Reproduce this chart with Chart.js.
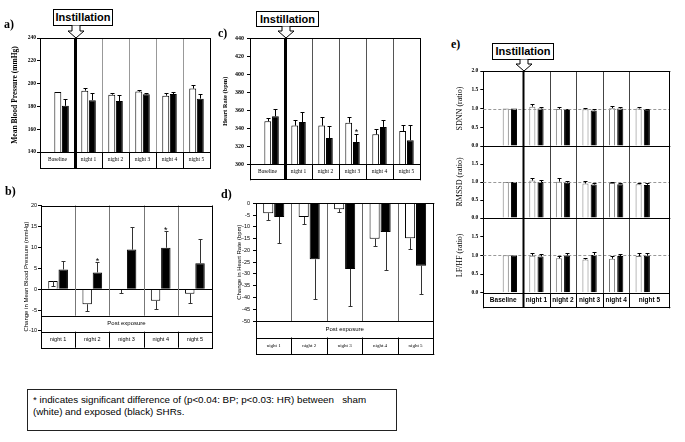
<!DOCTYPE html>
<html>
<head>
<meta charset="utf-8">
<script src="https://cdn.jsdelivr.net/npm/chart.js@4.4.0/dist/chart.umd.min.js"></script>
<style>
  body { margin: 0; background: #fff; width: 685px; height: 442px; position: relative; overflow: hidden; }
  canvas { position: absolute; z-index: 0; }
  .lab { position: absolute; z-index: 2; font: bold 12px 'Liberation Serif', serif; }
  .inst { position: absolute; z-index: 3; border: 1px solid #000; background: #fff; box-sizing: border-box;
          font: bold 11px 'Liberation Sans', Arial, sans-serif; text-align: center; }
  .note { position: absolute; z-index: 2; left: 27px; top: 389px; width: 370px; height: 42px; box-sizing: border-box;
          border: 1px solid #222; padding: 4px 0 0 5px; font: 9.8px 'Liberation Sans', Arial, sans-serif; line-height: 12px; white-space: pre; }
</style>
</head>
<body>
<div class="lab" style="left:4px;top:17px">a)</div>
<div class="lab" style="left:5px;top:184px">b)</div>
<div class="lab" style="left:218px;top:26px">c)</div>
<div class="lab" style="left:221px;top:187px">d)</div>
<div class="lab" style="left:451px;top:37px">e)</div>
<div class="inst" style="left:53px;top:9px;width:60px;height:17px;line-height:15px">Instillation</div>
<div class="inst" style="left:256px;top:11px;width:63px;height:16px;line-height:14px">Instillation</div>
<div class="inst" style="left:492px;top:43px;width:62px;height:17px;line-height:15px">Instillation</div>
<div class="note">* indicates significant difference of (p&lt;0.04: BP; p&lt;0.03: HR) between   sham
(white) and exposed (black) SHRs.</div>
<script>
const cats6 = ['Baseline', 'night 1', 'night 2', 'night 3', 'night 4', 'night 5'];
const cats5 = ['night 1', 'night 2', 'night 3', 'night 4', 'night 5'];

// a) mean blood pressure (mmHg)
const bpTicks = [140, 160, 180, 200, 220, 240];
const bpSham = [192.6, 193.8, 190.3, 193.0, 189.4, 195.6];
const bpShamErr = [0.4, 2.7, 1.4, 1.7, 2.6, 3.2];
const bpExp = [180.5, 185.5, 184.7, 190.6, 190.8, 186.8];
const bpExpErr = [5.9, 6.5, 5.1, 1.4, 2.2, 4.4];

// b) change in mean blood pressure
const dbpTicks = [-10, -5, 0, 5, 10, 15, 20];
const dbpSham = [1.95, -3.6, -0.2, -2.8, -1.1];
const dbpShamErr = [1.25, 1.6, 0.8, 1.9, 2.3];
const dbpExp = [4.7, 4.0, 9.45, 9.9, 6.2];
const dbpExpErr = [2.1, 2.6, 5.3, 4.0, 5.8];
const dbpSig = [false, true, false, true, false];

// c) heart rate (bpm)
const hrTicks = [300, 320, 340, 360, 380, 400, 420, 440];
const hrSham = [347.8, 343.0, 343.0, 346.3, 333.3, 337.0];
const hrShamErr = [4.1, 6.6, 9.6, 5.9, 5.6, 7.0];
const hrExp = [353.3, 347.0, 329.2, 324.8, 341.5, 326.7];
const hrExpErr = [8.1, 11.0, 13.4, 8.9, 7.4, 17.3];
const hrSig = [false, false, false, true, false, false];

// d) change in heart rate
const dhrTicks = [-50, -45, -40, -35, -30, -25, -20, -15, -10, -5, 0];
const dhrSham = [-4.2, -5.8, -2.5, -15.1, -14.9];
const dhrShamErr = [2.9, 3.1, 1.3, 3.1, 4.6];
const dhrExp = [-5.8, -23.8, -27.9, -12.2, -26.5];
const dhrExpErr = [11.0, 16.7, 15.8, 16.2, 12.0];

// e) HRV ratios
const ratioTicks = [0, 0.5, 1.0, 1.5, 2.0];
const sdnnSham = [1.00, 1.05, 0.99, 0.98, 1.01, 1.00];
const sdnnShamErr = [0, 0.07, 0.05, 0.03, 0.07, 0.05];
const sdnnExp = [1.00, 1.00, 0.99, 0.95, 1.00, 0.97];
const sdnnExpErr = [0, 0.03, 0, 0.04, 0.05, 0.03];
const rmssdSham = [1.00, 1.04, 1.01, 0.96, 0.97, 0.94];
const rmssdShamErr = [0, 0.08, 0.11, 0.07, 0.04, 0.03];
const rmssdExp = [1.00, 1.00, 0.98, 0.93, 0.94, 0.92];
const rmssdExpErr = [0, 0.06, 0.04, 0.05, 0.04, 0.06];
const lfhfSham = [1.00, 0.99, 0.92, 0.89, 0.91, 0.98];
const lfhfShamErr = [0, 0.08, 0.06, 0.05, 0.08, 0.09];
const lfhfExp = [1.00, 0.97, 1.00, 1.01, 0.98, 0.99];
const lfhfExpErr = [0, 0.06, 0.06, 0.07, 0.05, 0.08];

Chart.defaults.color = '#000';
Chart.defaults.font.family = "'Liberation Sans', Arial, sans-serif";

const SERIF = "'Liberation Serif', serif";
const SANS = "'Liberation Sans', Arial, sans-serif";

// error bars, category table, dividers and the instillation line
const decor = {
  id: 'decor',
  afterDatasetsDraw(chart, args, o) {
    const { ctx, chartArea: a, scales: { x, y } } = chart;
    const n = o.labels.length;
    const rows = o.rows || 0;
    const rowsBottom = o.inside ? a.bottom : a.bottom + o.rowH * rows;
    const plotBottom = rowsBottom - o.rowH * rows;
    const catTop = rowsBottom - o.rowH;
    const px = v => Math.round(v) + 0.5;
    const seg = (x1, y1, x2, y2) => { ctx.beginPath(); ctx.moveTo(x1, y1); ctx.lineTo(x2, y2); ctx.stroke(); };
    ctx.save();
    ctx.lineWidth = 1;

    if (o.ref !== undefined) {
      ctx.strokeStyle = '#999';
      ctx.setLineDash([3, 2]);
      const ry = px(y.getPixelForValue(o.ref));
      seg(a.left, ry, a.right, ry);
      ctx.setLineDash([]);
    }
    if (o.zero) {
      ctx.strokeStyle = '#000';
      const zy = px(y.getPixelForValue(0));
      seg(a.left, zy, a.right, zy);
    }

    chart.data.datasets.forEach((ds, di) => {
      chart.getDatasetMeta(di).data.forEach((bar, i) => {
        const v = ds.data[i].y, e = ds.err[i];
        const end = ds.errDir === 'down' ? v - e : v + e;
        const bx = px(bar.x), y1 = px(y.getPixelForValue(end));
        if (e) {
          ctx.strokeStyle = o.errColor || '#000';
          seg(bx, bar.y, bx, y1);
          seg(bx - o.cap, y1, bx + o.cap, y1);
        }
        if (ds.sig && ds.sig[i]) {
          ctx.fillStyle = '#000';
          ctx.font = o.starFont;
          ctx.textAlign = 'center';
          ctx.textBaseline = 'alphabetic';
          ctx.fillText('*', bar.x, y1 + o.starDy);
        }
      });
    });

    if (o.inside && rows) {
      ctx.fillStyle = '#fff';
      ctx.fillRect(a.left + 1, plotBottom, a.right - a.left - 1, rowsBottom - plotBottom);
    }

    const bounds = [a.left];
    for (let i = 0; i < n - 1; i++) bounds.push(x.getPixelForValue(i + 0.5));
    bounds.push(a.right);

    for (let i = 1; i < n; i++) {
      if (i === o.instill) continue;
      const bx = px(bounds[i]);
      ctx.strokeStyle = o.divColor;
      seg(bx, a.top, bx, plotBottom);
      if (rows) {
        ctx.strokeStyle = '#000';
        seg(bx, catTop, bx, rowsBottom);
      }
    }

    ctx.strokeStyle = '#000';
    seg(a.left, px(a.top), a.right + 1, px(a.top));
    seg(px(a.right), a.top, px(a.right), rowsBottom + 1);
    seg(a.left, px(plotBottom), a.right, px(plotBottom));
    if (rows) {
      seg(a.left, px(catTop), a.right, px(catTop));
      seg(a.left, px(rowsBottom), a.right + 1, px(rowsBottom));
      seg(px(a.left), a.bottom, px(a.left), rowsBottom + 1);
    }

    if (o.instill) {
      ctx.lineWidth = o.instW;
      seg(Math.round(bounds[o.instill]) + 0.5, a.top, Math.round(bounds[o.instill]) + 0.5, rowsBottom);
      ctx.lineWidth = 1;
    }

    ctx.fillStyle = '#000';
    ctx.textAlign = 'center';
    ctx.textBaseline = 'middle';
    if (rows) {
      ctx.font = o.catFont;
      for (let i = 0; i < n; i++) {
        ctx.fillText(o.labels[i], (bounds[i] + bounds[i + 1]) / 2, catTop + o.rowH / 2);
      }
    }
    if (rows === 2) {
      ctx.font = o.postFont;
      ctx.fillText('Post exposure', (a.left + a.right) / 2, plotBottom + o.rowH / 2);
    }
    ctx.restore();
  }
};

const xy = vals => vals.map((v, i) => ({ x: i, y: v }));

function makePanel(box, p) {
  const cv = document.createElement('canvas');
  cv.width = box.w;
  cv.height = box.h;
  cv.style.left = box.l + 'px';
  cv.style.top = box.t + 'px';
  document.body.appendChild(cv);
  return new Chart(cv, {
    type: 'bar',
    data: {
      datasets: [
        { data: xy(p.sham), err: p.shamErr, errDir: p.shamDir || 'up',
          backgroundColor: '#fff', borderColor: p.shamEdge || '#000', borderWidth: 1 },
        { data: xy(p.exp), err: p.expErr, errDir: p.expDir || 'up', sig: p.sig,
          backgroundColor: '#000', borderColor: '#000', borderWidth: 1 }
      ]
    },
    plugins: [decor],
    options: {
      responsive: false,
      animation: false,
      devicePixelRatio: 1,
      layout: { autoPadding: false, padding: box.pad },
      datasets: { bar: { categoryPercentage: p.catPct, barPercentage: p.barPct } },
      plugins: { legend: { display: false }, tooltip: { enabled: false }, decor: p.decor },
      scales: {
        x: {
          type: 'linear', display: false, offset: false, bounds: 'data',
          min: p.xMin, max: p.xMax,
          afterBuildTicks: s => { s.ticks = p.sham.map((v, i) => ({ value: i })); }
        },
        y: {
          min: p.yMin,
          max: p.yMax,
          afterFit: s => { s.width = box.yW; },
          afterBuildTicks: s => { s.ticks = p.yTicks.map(v => ({ value: v })); },
          ticks: { font: p.tickFont, color: '#000', padding: p.tickPad, autoSkip: false,
                    callback: p.fmt || (v => String(v)) },
          grid: { drawOnChartArea: false, tickLength: 3, color: '#000' },
          border: { color: '#000' },
          title: { display: !!p.title, text: p.title, font: p.titleFont, color: '#000',
                   padding: { top: p.titlePad, bottom: 0 } }
        }
      }
    }
  });
}

// a)
const boxA = { l: 0, t: 30, w: 216, h: 142, yW: 40, pad: { left: 0, top: 8, right: 6, bottom: 20 } };
const chartA = makePanel(boxA, {
  sham: bpSham, shamErr: bpShamErr, exp: bpExp, expErr: bpExpErr,
  xMin: -0.8, xMax: 5.5, yMin: 140, yMax: 240, yTicks: bpTicks,
  catPct: 0.56, barPct: 0.92,
  tickFont: { family: SERIF, size: 5.5, weight: 'bold' }, tickPad: 1,
  title: 'Mean Blood Pressure (mmHg)', titleFont: { family: SERIF, size: 7.5, weight: 'bold' }, titlePad: 10.5,
  decor: { labels: cats6, rows: 1, rowH: 16, instill: 1, instW: 3, divColor: '#999', cap: 2,
           catFont: '5.5px ' + SERIF }
});

// b)
const boxB = { l: 0, t: 196, w: 218, h: 156, yW: 41, pad: { left: 0, top: 9.5, right: 6, bottom: 2 } };
makePanel(boxB, {
  sham: dbpSham, shamErr: dbpShamErr, shamDir: 'down', exp: dbpExp, expErr: dbpExpErr, sig: dbpSig,
  xMin: -0.5, xMax: 4.5, yMin: -14, yMax: 20, yTicks: dbpTicks,
  catPct: 0.6, barPct: 0.92,
  tickFont: { family: SANS, size: 5.5 }, tickPad: 1,
  title: 'Change in Mean Blood Pressure (mmHg)', titleFont: { family: SANS, size: 6 }, titlePad: 23,
  decor: { labels: cats5, rows: 2, rowH: 16, inside: true, zero: true, divColor: '#777', cap: 2,
           errColor: '#333', starFont: '9px ' + SANS, starDy: 1.5,
           catFont: '5.5px ' + SANS, postFont: '6px ' + SANS }
});

// c)
const boxC = { l: 216, t: 30, w: 210, h: 152, yW: 34, pad: { left: 0, top: 8.3, right: 6, bottom: 17.7 } };
const chartC = makePanel(boxC, {
  sham: hrSham, shamErr: hrShamErr, exp: hrExp, expErr: hrExpErr, sig: hrSig,
  xMin: -0.8, xMax: 5.5, yMin: 300, yMax: 440, yTicks: hrTicks,
  catPct: 0.57, barPct: 0.88,
  tickFont: { family: SERIF, size: 6, weight: 'bold' }, tickPad: 3,
  title: 'Heart Rate (bpm)', titleFont: { family: SERIF, size: 6.5, weight: 'bold' }, titlePad: 5,
  decor: { labels: cats6, rows: 1, rowH: 15, instill: 1, instW: 3, divColor: '#555', cap: 2,
           starFont: '9px ' + SANS, starDy: 0,
           catFont: '5.5px ' + SERIF }
});

// d)
const boxD = { l: 218, t: 196, w: 220, h: 160, yW: 38, pad: { left: 0, top: 7.3, right: 4.7, bottom: 35 } };
makePanel(boxD, {
  sham: dhrSham, shamErr: dhrShamErr, shamDir: 'down', exp: dhrExp, expErr: dhrExpErr, expDir: 'down',
  xMin: -0.5, xMax: 4.5, yMin: -50, yMax: 0, yTicks: dhrTicks,
  catPct: 0.62, barPct: 0.92,
  tickFont: { family: SANS, size: 5.5 }, tickPad: 3,
  title: 'Change in Heart Rate (bpm)', titleFont: { family: SANS, size: 6 }, titlePad: 17.7,
  decor: { labels: cats5, rows: 2, rowH: 16.5, divColor: '#666', cap: 2, errColor: '#333',
           catFont: '5px ' + SERIF, postFont: '6px ' + SANS }
});

// e)
const eTick = { family: SERIF, size: 5.5, weight: 'bold' };
const eTitle = { family: SERIF, size: 8 };
const eFmt = v => v.toFixed(1);
const boxE1 = { l: 448, t: 62, w: 226, h: 92, yW: 35.3, pad: { left: 0, top: 9, right: 4.7, bottom: 8 } };
const chartE = makePanel(boxE1, {
  sham: sdnnSham, shamErr: sdnnShamErr, exp: sdnnExp, expErr: sdnnExpErr, shamEdge: '#777',
  xMin: -1, xMax: 6, yMin: 0, yMax: 2, yTicks: ratioTicks, fmt: eFmt,
  catPct: 0.62, barPct: 0.74,
  tickFont: eTick, tickPad: 2,
  title: 'SDNN (ratio)', titleFont: eTitle, titlePad: 7.2,
  decor: { labels: cats6, rows: 0, rowH: 0, instill: 1, instW: 2, divColor: '#444', cap: 2, ref: 1 }
});
const boxE2 = { l: 448, t: 140, w: 226, h: 86, yW: 35.3, pad: { left: 0, top: 6, right: 4.7, bottom: 8 } };
makePanel(boxE2, {
  sham: rmssdSham, shamErr: rmssdShamErr, exp: rmssdExp, expErr: rmssdExpErr, shamEdge: '#777',
  xMin: -1, xMax: 6, yMin: 0, yMax: 2, yTicks: ratioTicks.slice(0, 4), fmt: eFmt,
  catPct: 0.62, barPct: 0.74,
  tickFont: eTick, tickPad: 2,
  title: 'RMSSD (ratio)', titleFont: eTitle, titlePad: 7.2,
  decor: { labels: cats6, rows: 0, rowH: 0, instill: 1, instW: 2, divColor: '#444', cap: 2, ref: 1 }
});
const boxE3 = { l: 448, t: 212, w: 226, h: 100, yW: 35.3, pad: { left: 0, top: 6, right: 4.7, bottom: 19.3 } };
makePanel(boxE3, {
  sham: lfhfSham, shamErr: lfhfShamErr, exp: lfhfExp, expErr: lfhfExpErr, shamEdge: '#777',
  xMin: -1, xMax: 6, yMin: 0, yMax: 2, yTicks: ratioTicks.slice(0, 4), fmt: eFmt,
  catPct: 0.62, barPct: 0.74,
  tickFont: eTick, tickPad: 2,
  title: 'LF/HF (ratio)', titleFont: eTitle, titlePad: 7.2,
  decor: { labels: cats6, rows: 1, rowH: 14.6, instill: 1, instW: 2, divColor: '#444', cap: 2, ref: 1,
           catFont: 'bold 6.5px ' + SANS }
});

// hollow arrows from the "Instillation" boxes down to the line
function arrow(chart, box, top, tip) {
  const cx = box.l + Math.round(chart.scales.x.getPixelForValue(0.5)) + 0.5;
  const h = tip - top, hs = Math.round(h * 0.45);
  const NS = 'http://www.w3.org/2000/svg';
  const s = document.createElementNS(NS, 'svg');
  s.setAttribute('width', 20);
  s.setAttribute('height', h + 1);
  s.style.cssText = `position:absolute;left:${cx - 10}px;top:${top}px;z-index:3`;
  const poly = document.createElementNS(NS, 'polygon');
  poly.setAttribute('points', `6,0 6,${hs} 2,${hs} 10,${h} 18,${hs} 14,${hs} 14,0`);
  poly.setAttribute('fill', '#fff');
  poly.setAttribute('stroke', '#000');
  poly.setAttribute('stroke-width', '1');
  s.appendChild(poly);
  document.body.appendChild(s);
}
arrow(chartA, boxA, 25, 38);
arrow(chartC, boxC, 26, 38);
arrow(chartE, boxE1, 59, 71);
</script>
</body>
</html>
